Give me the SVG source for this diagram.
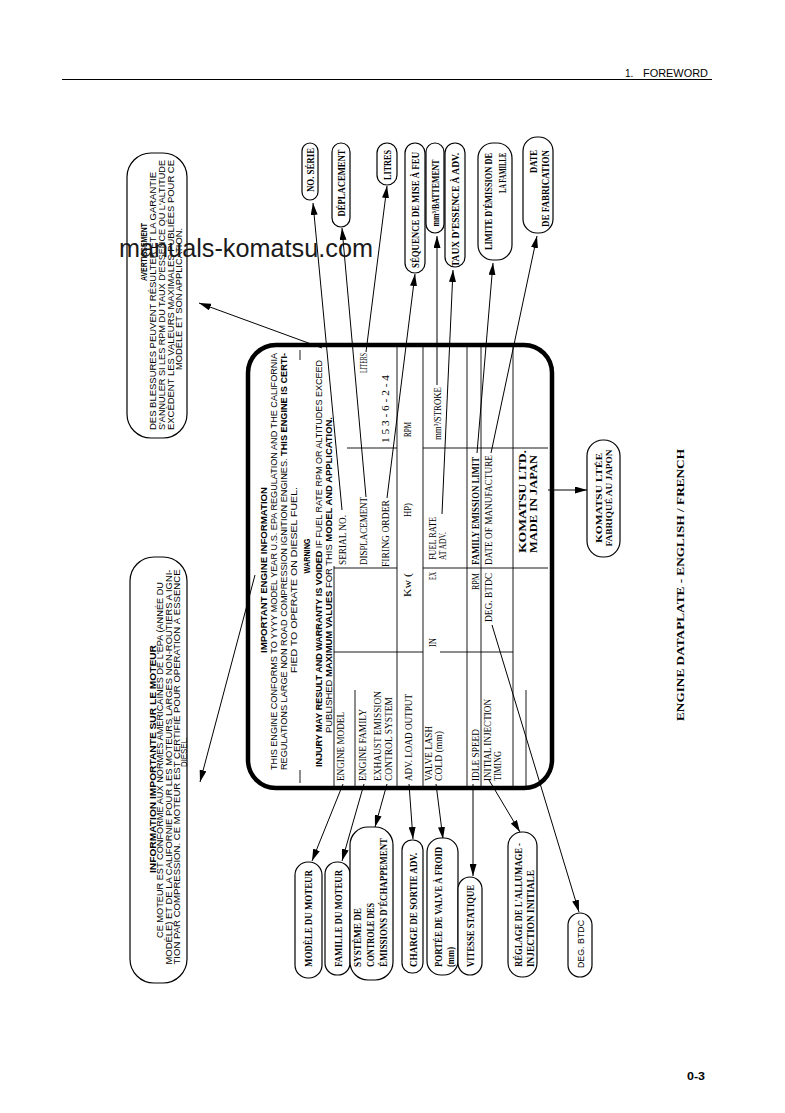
<svg xmlns="http://www.w3.org/2000/svg" width="785" height="1113" viewBox="0 0 785 1113">
<defs>
<style>
 text { fill:#000; }
 .v { dominant-baseline:central; }
 .sn { font-family:"Liberation Sans",Arial,sans-serif; font-size:9.5px; }
 .sc { font-family:"Liberation Sans",Arial,sans-serif; font-size:9px; }
 .sf { font-family:"Liberation Serif","Times New Roman",serif; font-size:10.5px; }
 .pt { font-family:"Liberation Serif","Times New Roman",serif; font-size:10px; font-weight:bold; }
 .b { font-weight:bold; }
 .pill { fill:#fff; stroke:#000; stroke-width:1.2; }
 .tl { stroke:#000; stroke-width:0.9; fill:none; }
 .arr { stroke:#000; stroke-width:1; fill:none; marker-end:url(#ah); }
 .ln { stroke:#000; stroke-width:1; fill:none; }
</style>
<marker id="ah" viewBox="0 0 12 7" refX="12" refY="3.5" markerWidth="12" markerHeight="7" markerUnits="userSpaceOnUse" orient="auto"><path d="M0,0 L12,3.5 L0,7 z" fill="#000"/></marker>
</defs>
<rect width="785" height="1113" fill="#fff"/>

<g id="header">
 <line x1="62" y1="79.5" x2="712" y2="79.5" class="ln"/>
 <text class="sn" x="625" y="76.5" style="font-size:10px">1.</text>
 <text class="sn" x="643" y="76.5" style="font-size:10px" textLength="65" lengthAdjust="spacingAndGlyphs">FOREWORD</text>
</g>

<g id="connectors">
 <line class="arr" x1="342" y1="510" x2="313" y2="203"/>
 <line class="arr" x1="366" y1="497" x2="342" y2="228"/>
 <line class="arr" x1="366" y1="352" x2="387" y2="186"/>
 <line class="arr" x1="387" y1="498" x2="415" y2="274"/>
 <line class="arr" x1="437" y1="385" x2="437" y2="236"/>
 <line class="arr" x1="442" y1="514" x2="453" y2="270"/>
 <line class="arr" x1="477" y1="453" x2="493" y2="263"/>
 <line class="arr" x1="491" y1="453" x2="537" y2="236"/>
 <line class="arr" x1="322" y1="348" x2="199" y2="303"/>
 <line class="arr" x1="255" y1="575" x2="200" y2="782"/>
 <line class="arr" x1="548" y1="490" x2="587" y2="490"/>
 <line class="arr" x1="343" y1="784" x2="312" y2="861"/>
 <line class="arr" x1="364" y1="784" x2="342" y2="861"/>
 <line class="arr" x1="387" y1="784" x2="375" y2="827"/>
 <line class="arr" x1="409" y1="784" x2="413" y2="839"/>
 <line class="arr" x1="436" y1="784" x2="443" y2="839"/>
 <line class="arr" x1="473" y1="784" x2="473" y2="876"/>
 <line class="arr" x1="489" y1="780" x2="520" y2="832"/>
 <line class="arr" x1="492" y1="625" x2="579" y2="912"/>
</g>

<g id="dataplate">
 <rect x="248" y="345" width="304" height="443" rx="28" fill="none" stroke="#000" stroke-width="4.5"/>
 <line class="tl" x1="300" y1="350" x2="300" y2="360"/>
 <line class="tl" x1="300" y1="770" x2="300" y2="783"/>
 <line class="tl" x1="334" y1="566" x2="334" y2="786"/>
 <line class="tl" x1="355" y1="690" x2="355" y2="786"/>
 <line class="tl" x1="397" y1="347" x2="397" y2="786"/>
 <line class="tl" x1="423" y1="347" x2="423" y2="786"/>
 <line class="tl" x1="467" y1="347" x2="467" y2="786"/>
 <line class="tl" x1="481" y1="347" x2="481" y2="786"/>
 <line class="tl" x1="513" y1="347" x2="513" y2="786"/>
 <line class="tl" x1="526" y1="690" x2="526" y2="786"/>
 <line class="tl" x1="347" y1="448" x2="397" y2="448"/>
 <line class="tl" x1="423" y1="448" x2="548" y2="448"/>
 <line class="tl" x1="334" y1="568" x2="397" y2="568"/>
 <line class="tl" x1="423" y1="568" x2="548" y2="568"/>
 <line class="tl" x1="334" y1="652" x2="423" y2="652"/>
 <line class="tl" x1="440" y1="652" x2="513" y2="652"/>

 <text class="sn b v" transform="translate(263 570) rotate(-90)" text-anchor="middle" textLength="166" lengthAdjust="spacingAndGlyphs">IMPORTANT ENGINE INFORMATION</text>
 <text class="sn v" transform="translate(273 770) rotate(-90)" textLength="417" lengthAdjust="spacingAndGlyphs">THIS ENGINE CONFORMS TO YYYY MODEL YEAR U.S. EPA REGULATION AND THE CALIFORNIA</text>
 <text class="sn v" transform="translate(283 770) rotate(-90)" textLength="417" lengthAdjust="spacingAndGlyphs">REGULATIONS LARGE NON ROAD COMPRESSION IGNITION ENGINES. <tspan class="b">THIS ENGINE IS CERTI-</tspan></text>
 <text class="sn v" transform="translate(293 580) rotate(-90)" text-anchor="middle" textLength="186" lengthAdjust="spacingAndGlyphs">FIED TO OPERATE ON DIESEL FUEL.</text>
 <text class="sn b v" transform="translate(307 556) rotate(-90)" text-anchor="middle" textLength="35" lengthAdjust="spacingAndGlyphs" style="font-size:9px">WARNING</text>
 <text class="sn v" transform="translate(318 767) rotate(-90)" textLength="407" lengthAdjust="spacingAndGlyphs"><tspan class="b">INJURY MAY RESULT AND WARRANTY IS VOIDED</tspan> IF FUEL RATE RPM OR ALTITUDES EXCEED</text>
 <text class="sn v" transform="translate(328 575) rotate(-90)" text-anchor="middle" textLength="316" lengthAdjust="spacingAndGlyphs">PUBLISHED <tspan class="b">MAXIMUM VALUES</tspan> FOR THIS <tspan class="b">MODEL AND APPLICATION.</tspan></text>

 <text class="sf v" transform="translate(340 781) rotate(-90)" textLength="69" lengthAdjust="spacingAndGlyphs">ENGINE MODEL</text>
 <text class="sf v" transform="translate(362 781) rotate(-90)" textLength="72" lengthAdjust="spacingAndGlyphs">ENGINE FAMILY</text>
 <text class="sf v" transform="translate(377 781) rotate(-90)" textLength="90" lengthAdjust="spacingAndGlyphs">EXHAUST EMISSION</text>
 <text class="sf v" transform="translate(388 781) rotate(-90)" textLength="84" lengthAdjust="spacingAndGlyphs">CONTROL SYSTEM</text>
 <text class="sf v" transform="translate(408 781) rotate(-90)" textLength="87" lengthAdjust="spacingAndGlyphs">ADV. LOAD OUTPUT</text>
 <text class="sf v" transform="translate(428 781) rotate(-90)" textLength="55" lengthAdjust="spacingAndGlyphs">VALVE LASH</text>
 <text class="sf v" transform="translate(438 781) rotate(-90)" textLength="50" lengthAdjust="spacingAndGlyphs">COLD (mm)</text>
 <text class="sf v" transform="translate(475 781) rotate(-90)" textLength="52" lengthAdjust="spacingAndGlyphs">IDLE SPEED</text>
 <text class="sf v" transform="translate(487 781) rotate(-90)" textLength="82" lengthAdjust="spacingAndGlyphs">INITIAL INJECTION</text>
 <text class="sf v" transform="translate(497 781) rotate(-90)" textLength="30" lengthAdjust="spacingAndGlyphs">TIMING</text>

 <text class="sf v" transform="translate(342 565) rotate(-90)" textLength="50" lengthAdjust="spacingAndGlyphs">SERIAL NO.</text>
 <text class="sf v" transform="translate(363 565) rotate(-90)" textLength="68" lengthAdjust="spacingAndGlyphs">DISPLACEMENT</text>
 <text class="sf v" transform="translate(363 373) rotate(-90)" textLength="20" lengthAdjust="spacingAndGlyphs">LITERS</text>
 <text class="sf v" transform="translate(385 567) rotate(-90)" textLength="67" lengthAdjust="spacingAndGlyphs">FIRING ORDER</text>
 <text class="sf v" transform="translate(385 443) rotate(-90)" textLength="68" lengthAdjust="spacingAndGlyphs">1 5 3 - 6 - 2 - 4</text>
 <text class="sf v" transform="translate(407 597) rotate(-90)" textLength="24" lengthAdjust="spacingAndGlyphs">Kw (</text>
 <text class="sf v" transform="translate(407 517) rotate(-90)" textLength="14" lengthAdjust="spacingAndGlyphs">HP)</text>
 <text class="sf v" transform="translate(407 437) rotate(-90)" textLength="15" lengthAdjust="spacingAndGlyphs">RPM</text>
 <text class="sf v" transform="translate(432 647) rotate(-90)" textLength="9" lengthAdjust="spacingAndGlyphs">IN</text>
 <text class="sf v" transform="translate(432 580) rotate(-90)" textLength="8" lengthAdjust="spacingAndGlyphs">EX</text>
 <text class="sf v" transform="translate(432 560) rotate(-90)" textLength="43" lengthAdjust="spacingAndGlyphs">FUEL RATE</text>
 <text class="sf v" transform="translate(442 560) rotate(-90)" textLength="28" lengthAdjust="spacingAndGlyphs">AT ADV.</text>
 <text class="sf v" transform="translate(437 440) rotate(-90)" textLength="53" lengthAdjust="spacingAndGlyphs">mm³/STROKE</text>
 <text class="sf v" transform="translate(475 590) rotate(-90)" textLength="17" lengthAdjust="spacingAndGlyphs">RPM</text>
 <text class="sf b v" transform="translate(475 565) rotate(-90)" textLength="108" lengthAdjust="spacingAndGlyphs">FAMILY EMISSION LIMIT</text>
 <text class="sf v" transform="translate(488 622) rotate(-90)" textLength="49" lengthAdjust="spacingAndGlyphs">DEG. BTDC</text>
 <text class="sf v" transform="translate(488 565) rotate(-90)" textLength="110" lengthAdjust="spacingAndGlyphs">DATE OF MANUFACTURE</text>
 <text class="sf b v" transform="translate(522 553) rotate(-90)" textLength="103" lengthAdjust="spacingAndGlyphs">KOMATSU LTD.</text>
 <text class="sf b v" transform="translate(533 553) rotate(-90)" textLength="98" lengthAdjust="spacingAndGlyphs">MADE IN JAPAN</text>
</g>

<g id="avertissement">
 <rect class="pill" x="127" y="153" width="60" height="285" rx="24"/>
 <text class="sc b v" transform="translate(143 252) rotate(-90)" text-anchor="middle" textLength="58" lengthAdjust="spacingAndGlyphs" style="font-size:9.5px">AVERTISSEMENT</text>
 <text class="sc v" transform="translate(153 301) rotate(-90)" text-anchor="middle" textLength="258" lengthAdjust="spacingAndGlyphs">DES BLESSURES PEUVENT RÉSULTER ET LA GARANTIE</text>
 <text class="sc v" transform="translate(162 295) rotate(-90)" text-anchor="middle" textLength="270" lengthAdjust="spacingAndGlyphs">S'ANNULER SI LES RPM DU TAUX D'ESSENCE OU L'ALTITUDE</text>
 <text class="sc v" transform="translate(170.5 295) rotate(-90)" text-anchor="middle" textLength="270" lengthAdjust="spacingAndGlyphs">EXCÈDENT LES VALEURS MAXIMALES PUBLIÉES POUR CE</text>
 <text class="sc v" transform="translate(179 299) rotate(-90)" text-anchor="middle" textLength="142" lengthAdjust="spacingAndGlyphs">MODÈLE ET SON APPLICATION.</text>
</g>

<g id="information">
 <rect class="pill" x="130" y="557" width="57" height="426" rx="24"/>
 <text class="sc b v" transform="translate(152 759) rotate(-90)" text-anchor="middle" textLength="228" lengthAdjust="spacingAndGlyphs" style="font-size:9.5px">INFORMATION IMPORTANTE SUR LE MOTEUR</text>
 <text class="sc v" transform="translate(160 760) rotate(-90)" text-anchor="middle" textLength="356" lengthAdjust="spacingAndGlyphs">CE MOTEUR EST CONFORME AUX NORMES AMÉRICAINES DE L'EPA (ANNÉE DU</text>
 <text class="sc v" transform="translate(168.5 767) rotate(-90)" text-anchor="middle" textLength="395" lengthAdjust="spacingAndGlyphs">MODÈLE) ET DE LA CALIFORNIE POUR LES MOTEURS LARGES NON-ROUTIERS A IGNI-</text>
 <text class="sc v" transform="translate(177 767) rotate(-90)" text-anchor="middle" textLength="395" lengthAdjust="spacingAndGlyphs">TION PAR COMPRESSION.  CE MOTEUR EST CERTIFIÉ POUR OPERATION À ESSENCE</text>
 <text class="sc v" transform="translate(183.5 752) rotate(-90)" text-anchor="middle" textLength="30" lengthAdjust="spacingAndGlyphs">DIÉSEL.</text>
</g>

<g id="pill-no-serie">
 <rect class="pill" x="302" y="143" width="16" height="57" rx="8"/>
 <text class="pt v" transform="translate(310 170) rotate(-90)" text-anchor="middle" textLength="44" lengthAdjust="spacingAndGlyphs">NO. SÉRIE</text>
</g>
<g id="pill-deplacement">
 <rect class="pill" x="332" y="143" width="18" height="84" rx="9"/>
 <text class="pt v" transform="translate(341 183) rotate(-90)" text-anchor="middle" textLength="67" lengthAdjust="spacingAndGlyphs">DÉPLACEMENT</text>
</g>
<g id="pill-litres">
 <rect class="pill" x="377" y="143" width="20" height="42" rx="10"/>
 <text class="pt v" transform="translate(387 165) rotate(-90)" text-anchor="middle" textLength="30" lengthAdjust="spacingAndGlyphs">LITRES</text>
</g>
<g id="pill-sequence">
 <rect class="pill" x="405" y="143" width="20" height="130" rx="10"/>
 <text class="pt v" transform="translate(415 210) rotate(-90)" text-anchor="middle" textLength="116" lengthAdjust="spacingAndGlyphs">SÉQUENCE DE MISE À FEU</text>
</g>
<g id="pill-battement">
 <rect class="pill" x="426" y="143" width="18" height="90" rx="9"/>
 <text class="pt v" transform="translate(435 193) rotate(-90)" text-anchor="middle" textLength="67" lengthAdjust="spacingAndGlyphs">mm³/BATTEMENT</text>
</g>
<g id="pill-taux">
 <rect class="pill" x="445" y="143" width="20" height="124" rx="10"/>
 <text class="pt v" transform="translate(455 210) rotate(-90)" text-anchor="middle" textLength="114" lengthAdjust="spacingAndGlyphs">TAUX D'ESSENCE À ADV.</text>
</g>
<g id="pill-limite">
 <rect class="pill" x="478" y="143" width="34" height="117" rx="15"/>
 <text class="pt v" transform="translate(488 153) rotate(-90)" text-anchor="end" textLength="97" lengthAdjust="spacingAndGlyphs">LIMITE D'ÉMISSION DE</text>
 <text class="pt v" transform="translate(502 153) rotate(-90)" text-anchor="end" textLength="40" lengthAdjust="spacingAndGlyphs">LA FAMILLE</text>
</g>
<g id="pill-date">
 <rect class="pill" x="523" y="137" width="30" height="96" rx="14"/>
 <text class="pt v" transform="translate(533 150) rotate(-90)" text-anchor="end" textLength="23" lengthAdjust="spacingAndGlyphs">DATE</text>
 <text class="pt v" transform="translate(545 150) rotate(-90)" text-anchor="end" textLength="77" lengthAdjust="spacingAndGlyphs">DE FABRICATION</text>
</g>

<g id="pill-modele">
 <rect class="pill" x="295" y="862" width="27" height="116" rx="13"/>
 <text class="pt v" transform="translate(308 967) rotate(-90)" textLength="97" lengthAdjust="spacingAndGlyphs">MODÈLE DU MOTEUR</text>
</g>
<g id="pill-famille">
 <rect class="pill" x="325" y="862" width="25" height="113" rx="12"/>
 <text class="pt v" transform="translate(338 967) rotate(-90)" textLength="97" lengthAdjust="spacingAndGlyphs">FAMILLE DU MOTEUR</text>
</g>
<g id="pill-systeme">
 <rect class="pill" x="350" y="827" width="43" height="153" rx="18"/>
 <text class="pt v" transform="translate(357 967) rotate(-90)" textLength="59" lengthAdjust="spacingAndGlyphs">SYSTÈME DE</text>
 <text class="pt v" transform="translate(370 967) rotate(-90)" textLength="64" lengthAdjust="spacingAndGlyphs">CONTROLE DES</text>
 <text class="pt v" transform="translate(383 967) rotate(-90)" textLength="129" lengthAdjust="spacingAndGlyphs">ÉMISSIONS D'ÉCHAPPEMENT</text>
</g>
<g id="pill-charge">
 <rect class="pill" x="402" y="840" width="21" height="133" rx="10"/>
 <text class="pt v" transform="translate(413 967) rotate(-90)" textLength="114" lengthAdjust="spacingAndGlyphs">CHARGE DE SORTIE ADV.</text>
</g>
<g id="pill-portee">
 <rect class="pill" x="427" y="838" width="31" height="137" rx="14"/>
 <text class="pt v" transform="translate(438 967) rotate(-90)" textLength="120" lengthAdjust="spacingAndGlyphs">PORTÉE DE VALVE À FROID</text>
 <text class="pt v" transform="translate(450 967) rotate(-90)" textLength="20" lengthAdjust="spacingAndGlyphs">(mm)</text>
</g>
<g id="pill-vitesse">
 <rect class="pill" x="458" y="877" width="24" height="98" rx="12"/>
 <text class="pt v" transform="translate(470 967) rotate(-90)" textLength="82" lengthAdjust="spacingAndGlyphs">VITESSE STATIQUE</text>
</g>
<g id="pill-reglage">
 <rect class="pill" x="508" y="832" width="29" height="145" rx="14"/>
 <text class="pt v" transform="translate(518 967) rotate(-90)" textLength="124" lengthAdjust="spacingAndGlyphs">RÉGLAGE DE L'ALLUMAGE -</text>
 <text class="pt v" transform="translate(530 967) rotate(-90)" textLength="97" lengthAdjust="spacingAndGlyphs">INJECTION INITIALE</text>
</g>
<g id="pill-deg-btdc">
 <rect class="pill" x="568" y="913" width="24" height="64" rx="12"/>
 <text class="sn v" transform="translate(580 968) rotate(-90)" textLength="48" lengthAdjust="spacingAndGlyphs">DEG. BTDC</text>
</g>
<g id="pill-komatsu">
 <rect class="pill" x="587" y="440" width="33" height="117" rx="16"/>
 <text class="pt v" transform="translate(599 498) rotate(-90)" text-anchor="middle" textLength="90" lengthAdjust="spacingAndGlyphs" style="font-size:9px">KOMATSU LTÉE</text>
 <text class="pt v" transform="translate(608.5 498) rotate(-90)" text-anchor="middle" textLength="97" lengthAdjust="spacingAndGlyphs" style="font-size:9px">FABRIQUÉ AU JAPON</text>
</g>

<g id="caption">
 <text class="v" transform="translate(680 585) rotate(-90)" text-anchor="middle" textLength="272" lengthAdjust="spacingAndGlyphs" style="font-family:'Liberation Serif','Times New Roman',serif;font-size:11px;font-weight:bold">ENGINE DATAPLATE - ENGLISH / FRENCH</text>
</g>

<g id="watermark">
 <text x="119" y="257" textLength="254" lengthAdjust="spacingAndGlyphs" style="font-family:'Liberation Sans',Arial,sans-serif;font-size:25px;fill:#1a1a1a">manuals-komatsu.com</text>
</g>

<g id="page-number">
 <text x="687" y="1080" textLength="18" lengthAdjust="spacingAndGlyphs" style="font-family:'Liberation Sans',Arial,sans-serif;font-size:10px;font-weight:bold">0-3</text>
</g>
</svg>
